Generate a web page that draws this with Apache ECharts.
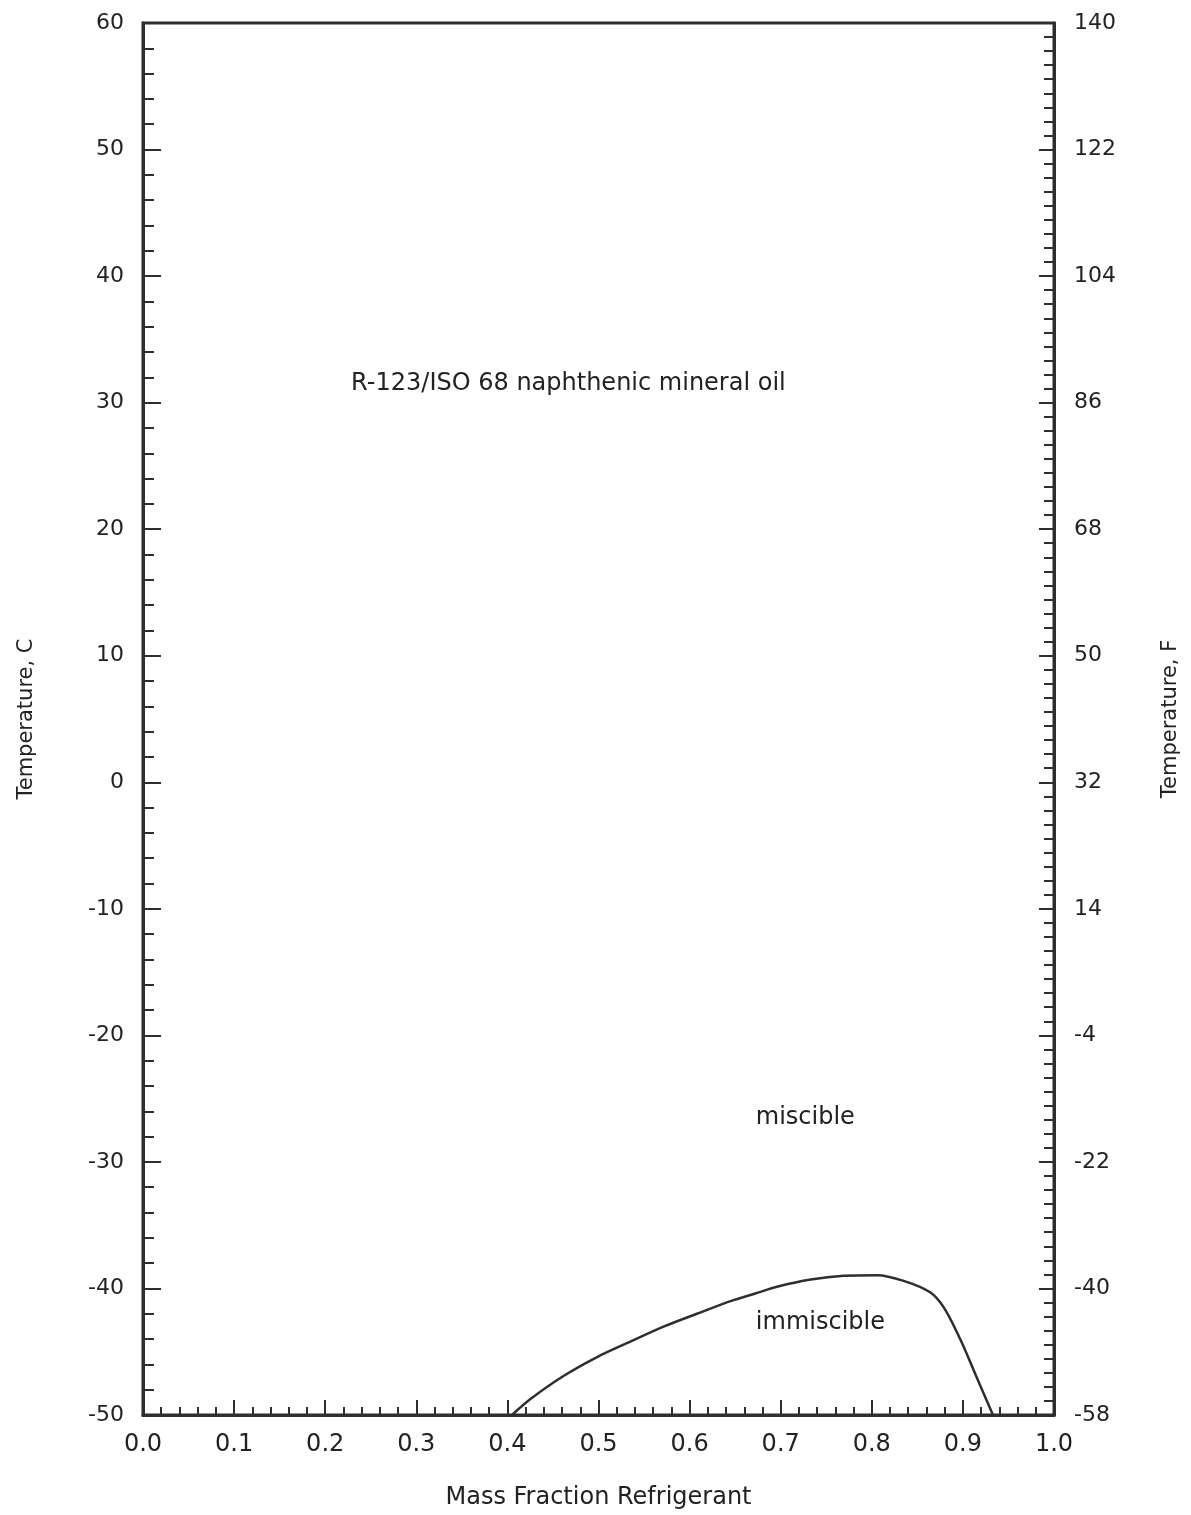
<!DOCTYPE html>
<html>
<head>
<meta charset="utf-8">
<script src="https://cdn.jsdelivr.net/npm/echarts@6/dist/echarts.min.js"></script>
<style>
html,body{margin:0;padding:0;background:#fff;}
#chart{width:1191px;height:1515px;}
</style>
</head>
<body>
<div id="chart"></div>
<script>
// Miscibility boundary (mass fraction refrigerant vs temperature, C)
const curveX = [0.405, 0.426, 0.462, 0.499, 0.535, 0.572, 0.608, 0.645, 0.672, 0.697, 0.733, 0.769, 0.806, 0.835, 0.864, 0.879, 0.897, 0.915, 0.933];
const curveY = [-50.0, -48.7, -46.9, -45.4, -44.2, -43.0, -42.0, -41.0, -40.4, -39.85, -39.3, -39.0, -38.95, -39.4, -40.3, -41.5, -44.0, -47.0, -50.0];

const xTickLabels = ['0.0','0.1','0.2','0.3','0.4','0.5','0.6','0.7','0.8','0.9','1.0'];
const cTickLabels = ['-50','-40','-30','-20','-10','0','10','20','30','40','50','60'];
const fTickLabels = ['-58','-40','-22','-4','14','32','50','68','86','104','122','140'];

const textLabels = ['R-123/ISO 68 naphthenic mineral oil', 'miscible', 'immiscible'];

const FONT = 'DejaVu Sans';
const TXT = '#222222';
const LINE = '#2e2e2e';

const chart = echarts.init(document.getElementById('chart'), null, {renderer: 'canvas'});

function idxLabel(arr, min, step) {
  return function (v) {
    const i = Math.round((v - min) / step);
    return arr[i] !== undefined ? arr[i] : '';
  };
}

const option = {
  backgroundColor: '#ffffff',
  animation: false,
  grid: {
    left: 143, right: 137, top: 23, bottom: 100,
    show: true, borderColor: LINE, borderWidth: 3, backgroundColor: 'transparent'
  },
  xAxis: {
    type: 'value', min: 0, max: 1, interval: 0.1,
    name: 'Mass Fraction Refrigerant', nameLocation: 'middle', nameGap: 71,
    nameTextStyle: {fontFamily: FONT, fontSize: 24, color: TXT},
    axisLine: {show: true, onZero: false, lineStyle: {color: LINE, width: 3}},
    axisTick: {show: true, inside: true, length: 15, lineStyle: {color: LINE, width: 2}},
    minorTick: {show: true, splitNumber: 5, length: 8, lineStyle: {color: LINE, width: 2}},
    splitLine: {show: false},
    axisLabel: {margin: 18, fontFamily: FONT, fontSize: 24, color: TXT,
      formatter: idxLabel(xTickLabels, 0, 0.1)}
  },
  yAxis: [
    {
      type: 'value', position: 'left', min: -50, max: 60, interval: 10,
      name: 'Temperature, C', nameLocation: 'middle', nameGap: 106, nameRotate: 90,
      nameTextStyle: {fontFamily: FONT, fontSize: 21, color: TXT},
      axisLine: {show: true, onZero: false, lineStyle: {color: LINE, width: 3}},
      axisTick: {show: true, inside: true, length: 18, lineStyle: {color: LINE, width: 2}},
      minorTick: {show: true, splitNumber: 5, length: 11, lineStyle: {color: LINE, width: 2}},
      splitLine: {show: false},
      axisLabel: {margin: 19, fontFamily: FONT, fontSize: 22, color: TXT,
        formatter: idxLabel(cTickLabels, -50, 10)}
    },
    {
      type: 'value', position: 'right', min: -50, max: 60, interval: 10,
      name: 'Temperature, F', nameLocation: 'middle', nameGap: 106, nameRotate: 90,
      nameTextStyle: {fontFamily: FONT, fontSize: 21, color: TXT},
      axisLine: {show: true, onZero: false, lineStyle: {color: LINE, width: 3}},
      axisTick: {show: true, inside: true, length: 15, lineStyle: {color: LINE, width: 2}},
      minorTick: {show: true, splitNumber: 9, length: 10, lineStyle: {color: LINE, width: 2}},
      splitLine: {show: false},
      axisLabel: {margin: 20, fontFamily: FONT, fontSize: 22, color: TXT,
        formatter: idxLabel(fTickLabels, -50, 10)}
    }
  ],
  series: [
    {
      type: 'line', yAxisIndex: 0, smooth: 0.3, symbol: 'none',
      lineStyle: {color: LINE, width: 2.5},
      data: curveX.map((x, i) => [x, curveY[i]])
    },
    {
      type: 'scatter', yAxisIndex: 0, symbolSize: 1, silent: true,
      itemStyle: {opacity: 1, color: 'rgba(0,0,0,0)'},
      label: {
        show: true, position: 'inside', fontFamily: FONT, fontSize: 24, color: TXT, opacity: 1,
        formatter: p => textLabels[p.dataIndex]
      },
      data: [[0.467, 31.5], [0.727, -26.5], [0.7436, -42.7]]
    }
  ]
};
chart.setOption(option);
</script>
</body>
</html>
